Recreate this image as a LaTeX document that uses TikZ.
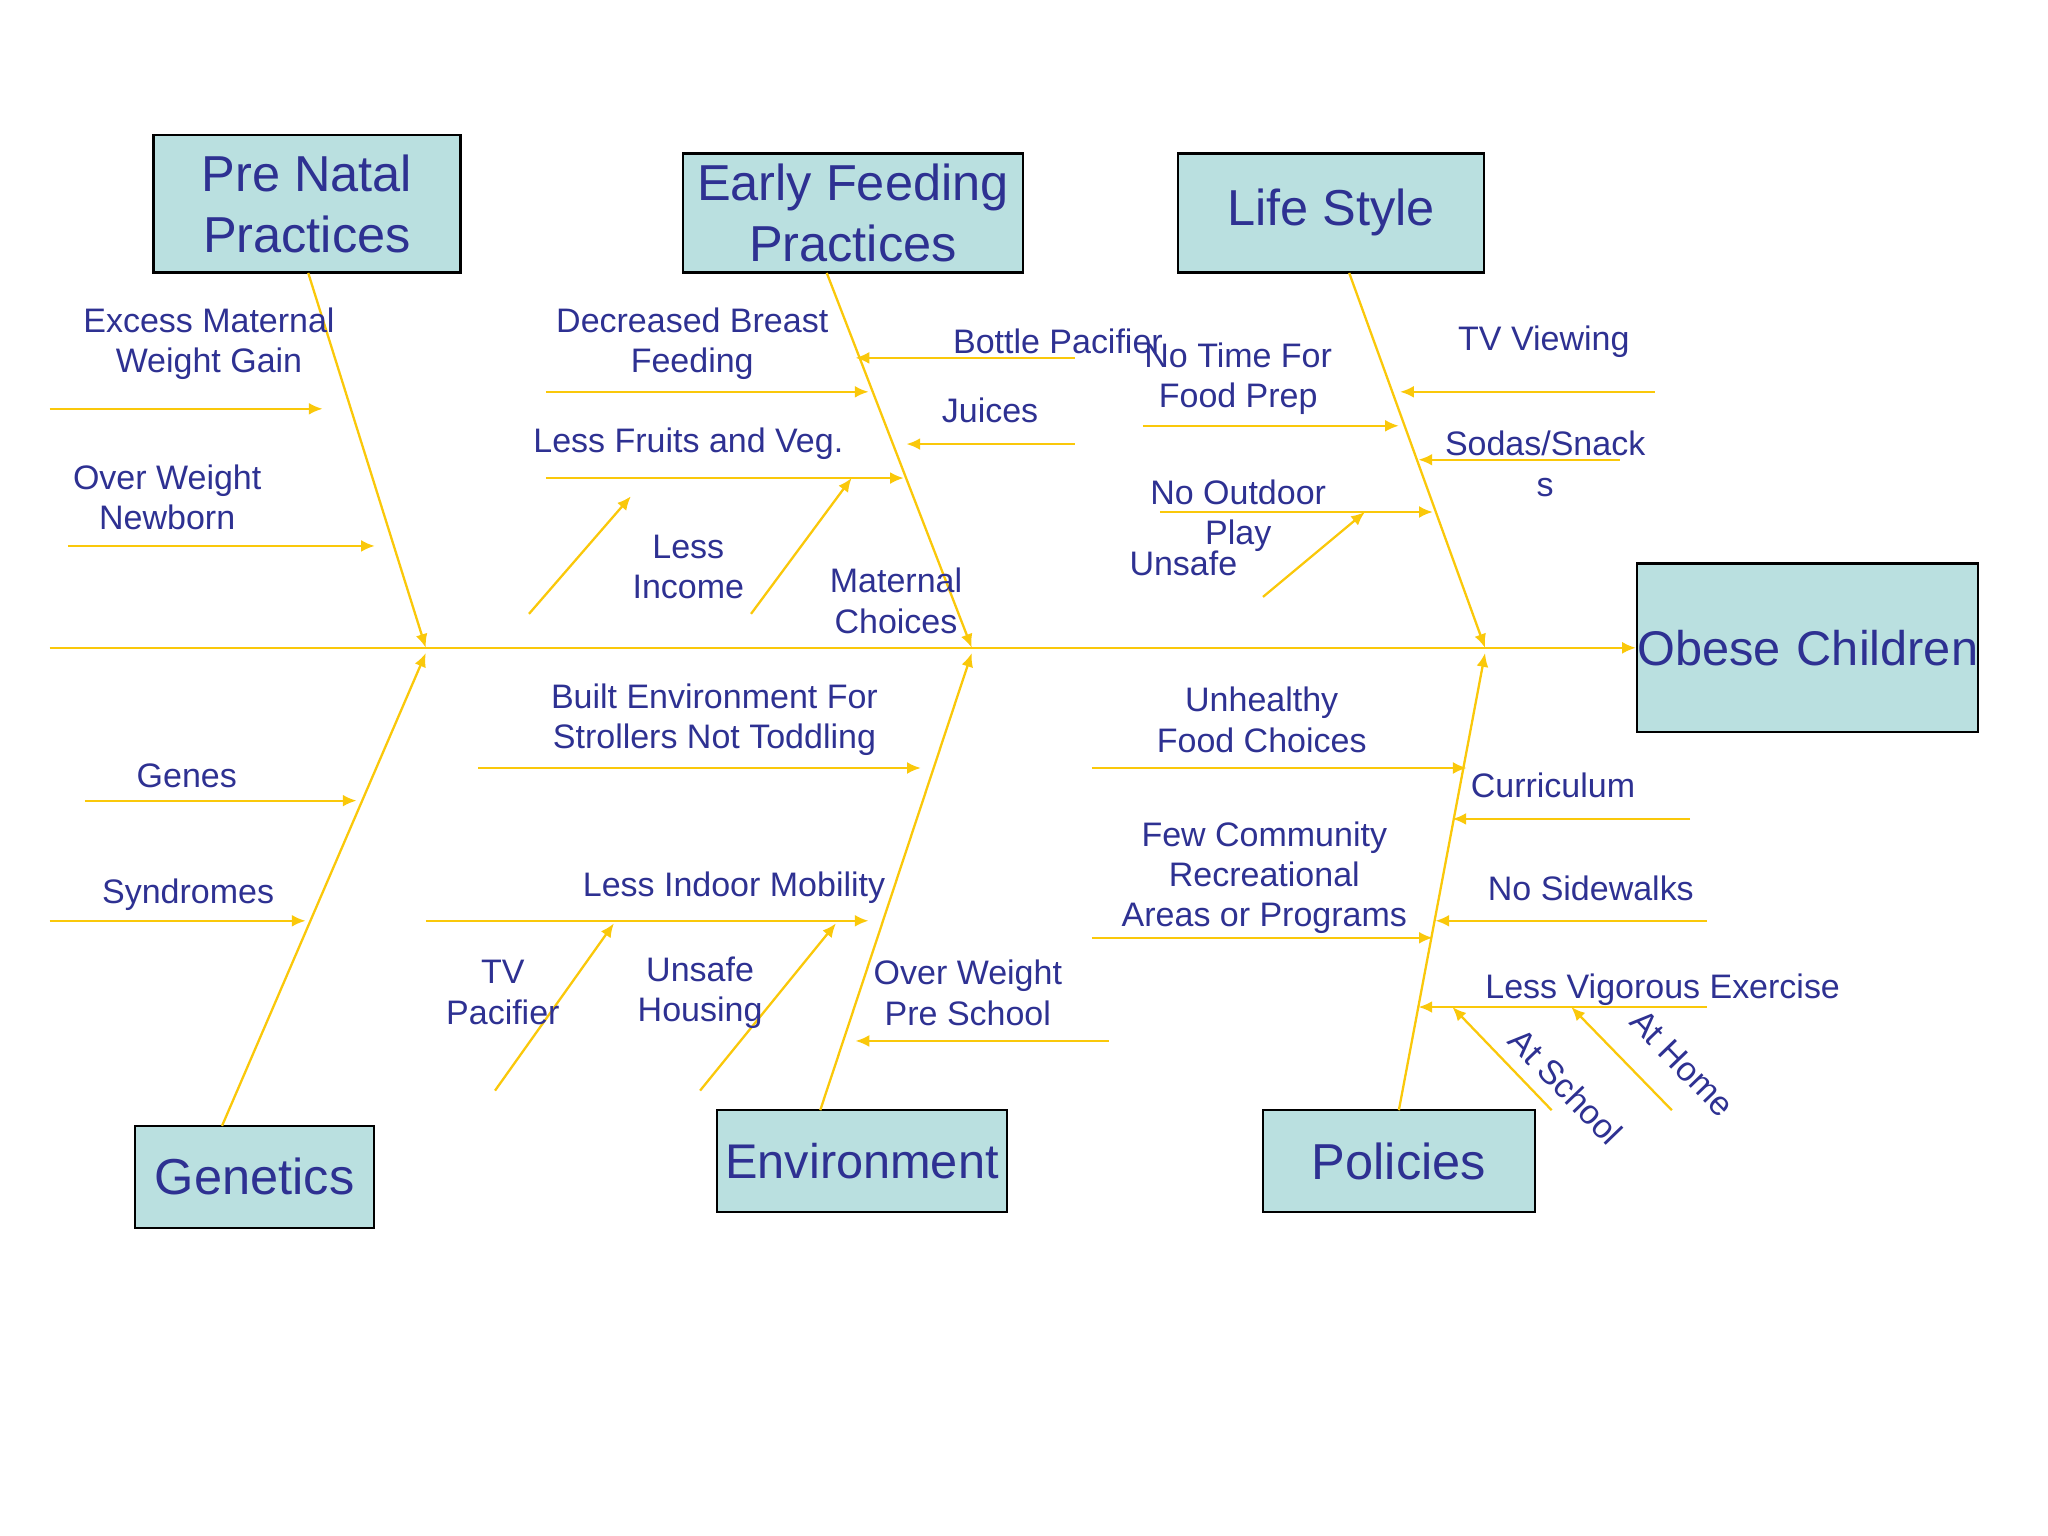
\documentclass[tikz,border=0pt]{standalone}
\usepackage{fontspec}
\setmainfont{Liberation Sans}
\usetikzlibrary{arrows.meta}
\definecolor{bx}{RGB}{186,224,224}
\definecolor{tx}{RGB}{46,49,146}
\definecolor{ln}{RGB}{250,200,10}
\begin{document}
\begin{tikzpicture}[x=0.01cm,y=-0.01cm,
 box/.style={draw=black,fill=bx,text=tx,font=\fontsize{11}{13.3}\selectfont,align=center,inner sep=0pt,line width=0.5pt},
 lb/.style={text=tx,font=\fontsize{7.4}{8.8}\selectfont,align=center,inner sep=0pt},
 ar/.style={draw=ln,line width=0.5pt,-{Latex[length=3pt,width=2.6pt]}}]
\useasboundingbox (0,0) rectangle (1568,1176);
\node[box,minimum width=2.35cm,minimum height=1.05cm] (pn) at (235,156) {Pre Natal\\Practices};
\node[box,minimum width=2.6cm,minimum height=0.91cm] (ef) at (653,163) {Early Feeding\\Practices};
\node[box,minimum width=2.34cm,minimum height=0.91cm] (ls) at (1019,163) {Life Style};
\node[box,text width=2.61cm,minimum height=1.29cm,font=\fontsize{10.6}{13}\selectfont] (oc) at (1384,496) {Obese Children};
\node[box,minimum width=1.83cm,minimum height=0.78cm] (ge) at (195,901) {Genetics};
\node[box,text width=2.22cm,minimum height=0.78cm,font=\fontsize{10.6}{13}\selectfont] (en) at (660,889) {Environment};
\node[box,minimum width=2.08cm,minimum height=0.78cm] (po) at (1071,889) {Policies};
\coordinate (s0) at (38,496);
\draw[ar] (s0) -- (oc.west);
\coordinate (j1) at (326,496); \coordinate (j2) at (744,496); \coordinate (j3) at (1137,496);
\coordinate (k1) at (326,500); \coordinate (k2) at (744,500); \coordinate (k3) at (1137,500);
\coordinate (t1) at (236,209); \coordinate (t2) at (633,209); \coordinate (t3) at (1033,209);
\coordinate (b1) at (170,862); \coordinate (b2) at (628,850); \coordinate (b3) at (1071,850);
\draw[ar] (t1) -- (j1); \draw[ar] (t2) -- (j2); \draw[ar] (t3) -- (j3);
\draw[ar] (b1) -- (k1); \draw[ar] (b2) -- (k2); \draw[ar] (b3) -- (k3);
\newcommand\rib[3]{\coordinate (#1a) at #2; \coordinate (#1b) at #3; \draw[ar] (#1a) -- (#1b);}
\rib{r1}{(38,313)}{(247,313)} \node[lb] (l1) at (160,263) {Excess Maternal\\Weight Gain};
\rib{r2}{(52,418)}{(287,418)} \node[lb] (l2) at (128,381) {Over Weight\\Newborn};
\rib{r3}{(418,300)}{(665,300)} \node[lb] (l3) at (530,263) {Decreased Breast\\Feeding};
\rib{r4}{(823,274)}{(655,274)} \node[lb] (l4) at (810,261) {Bottle Pacifier};
\rib{r5}{(823,340)}{(694,340)} \node[lb] (l5) at (758,314) {Juices};
\rib{r6}{(418,366)}{(692,366)} \node[lb] (l6) at (527,340) {Less Fruits and Veg.};
\rib{r7}{(405,470)}{(483,380)}
\rib{r8}{(575,470)}{(652,366)} \node[lb] (l8) at (527,434) {Less\\Income};
\node[lb] (l9) at (686,460) {Maternal\\Choices};
\rib{r10}{(875,326)}{(1071,326)} \node[lb] (l10) at (948,290) {No Time For\\Food Prep};
\rib{r11}{(1267,300)}{(1072,300)} \node[lb] (l11) at (1182,262) {TV Viewing};
\rib{r12}{(1240,352)}{(1086,352)} \node[lb] (l12) at (1183,355) {Sodas/Snack\\s};
\rib{r13}{(888,392)}{(1097,392)} \node[lb] (l13) at (948,395) {No Outdoor\\Play};
\rib{r14}{(967,457)}{(1045,392)} \node[lb] (l14) at (906,431) {Unsafe};
\rib{r15}{(65,613)}{(273,613)} \node[lb] (l15) at (143,594) {Genes};
\rib{r16}{(38,705)}{(234,705)} \node[lb] (l16) at (144,685) {Syndromes};
\rib{r17}{(366,588)}{(705,588)} \node[lb] (l17) at (547,551) {Built Environment For\\Strollers Not Toddling};
\rib{r18}{(326,705)}{(665,705)} \node[lb] (l18) at (562,680) {Less Indoor Mobility};
\rib{r19}{(379,835)}{(470,707)} \node[lb] (l19) at (385,760) {TV\\Pacifier};
\rib{r20}{(536,835)}{(640,707)} \node[lb] (l20) at (536,760) {Unsafe\\Housing};
\rib{r21}{(849,797)}{(655,797)} \node[lb] (l21) at (741,760) {Over Weight\\Pre School};
\rib{r22}{(836,588)}{(1123,588)} \node[lb] (l22) at (966,551) {Unhealthy\\Food Choices};
\rib{r23}{(1294,627)}{(1112,627)} \node[lb] (l23) at (1189,601) {Curriculum};
\rib{r24}{(836,718)}{(1097,718)} \node[lb] (l24) at (968,672) {Few Community\\Recreational\\Areas or Programs};
\rib{r25}{(1307,705)}{(1099,705)} \node[lb] (l25) at (1218,680) {No Sidewalks};
\rib{r26}{(1307,771)}{(1086,771)} \node[lb] (l26) at (1273,758) {Less Vigorous Exercise};
\rib{r27}{(1188,850)}{(1112,771)} \node[lb,rotate=-46] (l27) at (1199,832) {At School};
\rib{r28}{(1280,850)}{(1203,771)} \node[lb,rotate=-46] (l28) at (1288,814) {At Home};
\end{tikzpicture}
\end{document}
